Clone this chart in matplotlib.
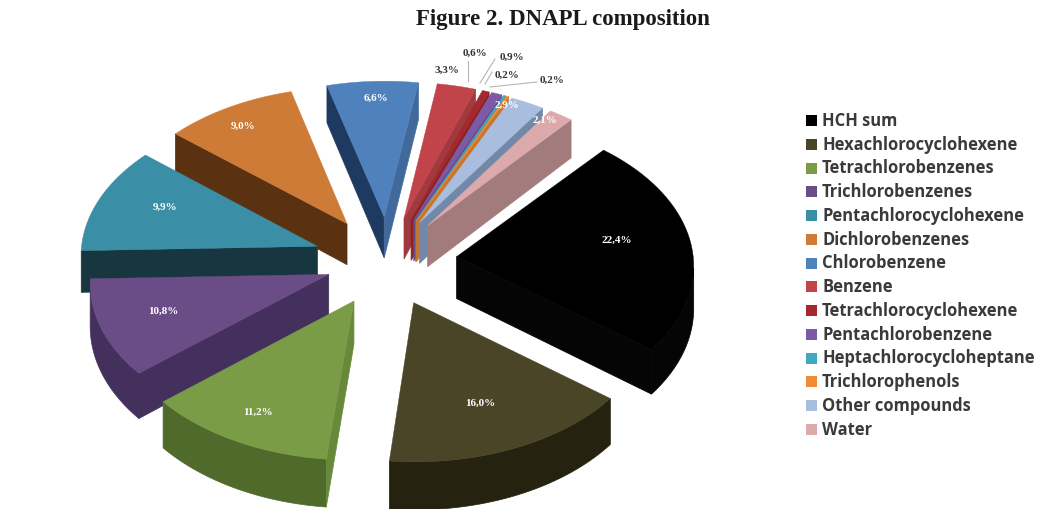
"""Figure 2. DNAPL composition - 3D exploded pie"""
import numpy as np
import matplotlib
matplotlib.use('Agg')
import matplotlib.pyplot as plt
from matplotlib.patches import Polygon, Rectangle

names = ['HCH sum', 'Hexachlorocyclohexene', 'Tetrachlorobenzenes', 'Trichlorobenzenes',
         'Pentachlorocyclohexene', 'Dichlorobenzenes', 'Chlorobenzene', 'Benzene',
         'Tetrachlorocyclohexene', 'Pentachlorobenzene', 'Heptachlorocycloheptane',
         'Trichlorophenols', 'Other compounds', 'Water']
values = [22.4, 16.0, 11.2, 10.8, 9.9, 9.0, 6.6, 3.3, 0.6, 0.9, 0.2, 0.2, 2.9, 2.1]
labels = ['22,4%', '16,0%', '11,2%', '10,8%', '9,9%', '9,0%', '6,6%', '3,3%', '0,6%', '0,9%',
          '0,2%', '0,2%', '2,9%', '2,1%']
colors = ['#000000', '#4b4528', '#7b9c47', '#6a4c86', '#3a8fa6', '#cd7b36', '#4f81bd', '#c0444a',
          '#a5282e', '#7d5aa6', '#3fa9c4', '#f08a35', '#a9bedf', '#ddaaab']
dark = ['#050505', '#25220f', '#4f6a2b', '#44305c', '#17363f', '#5a3212', '#1f3a60', '#7e2a2e',
        '#6e1c20', '#4f3a6e', '#2a7488', '#a85e20', '#7288a8', '#a27c7c']
light = ['#101010', '#3a3620', '#668a3a', '#4f3a68', '#2a6e80', '#a5622a', '#41699c', '#a03a3e',
         '#8a2226', '#67498a', '#3490a6', '#cc7428', '#8ea3c2', '#b99090']
# 数据标签的位置
label_xy = [(617, 240), (480, 403), (258, 412), (163, 311), (165, 207), (243, 126), (376, 98),
            (447, 70), (475, 53), (512, 57), (507, 75), (552, 80), (507, 105), (545, 120)]
# 每个扇区的分离距离和屏幕微调
explode = [72, 72, 72, 60, 72, 72, 72, 72, 72, 72, 72, 72, 72, 72]
nudge_x = [0, 0, 3, 0, 0, 0, 3, 2, 2, 2, 2, 2, 0, 0]
# 三维饼图的角度变形
warp_at = [42, 126, 186, 228, 268, 305, 339, 364, 402]
warp_by = [-1, 2, 0, 2, 0, 5, 6, 5, -2]

start = 42.0
cx, cy = 385, 262
R = 237.0
k = 0.62
f = 20 * R
depth = 42.0


def project(x, y):
    # 圆盘平面到屏幕的透视投影
    s = f / (f + y)
    return cx + x * s, cy - y * k * s


fig = plt.figure(figsize=(10.43, 5.1), dpi=100)
ax = fig.add_axes([0, 0, 1, 1])
ax.set_xlim(0, 1043)
ax.set_ylim(510, 0)
ax.axis('off')

edges = np.cumsum([0] + values) / sum(values) * 360 + start
edges = edges + np.interp(edges, warp_at, warp_by)
order = sorted(range(len(values)), key=lambda i: -np.cos(np.radians((edges[i] + edges[i + 1]) / 2)))

for z, i in enumerate(order):
    a0, a1 = np.radians(edges[i]), np.radians(edges[i + 1])
    mid = (a0 + a1) / 2
    ex = explode[i] * np.sin(mid)
    ey = explode[i] * np.cos(mid)
    th = np.linspace(a0, a1, 40)
    xs = np.append(ex, R * np.sin(th) + ex)
    ys = np.append(ey, R * np.cos(th) + ey)
    top = np.column_stack(project(xs, ys)) + [nudge_x[i], 0]
    d = depth * (f / (f + ys)) ** 2
    low = top + np.column_stack([np.zeros(len(d)), d])
    n = len(top)

    # 外缘：只画朝向观察者的部分
    vis = [j for j in range(1, n - 1) if top[j][0] > top[j + 1][0]]
    if vis:
        idx = vis + [vis[-1] + 1]
        rim = np.vstack([top[idx], low[idx][::-1]])
        ax.add_patch(Polygon(rim, closed=True, fc=dark[i], ec=dark[i], lw=0.5, zorder=2 + z))
    # 两个切面
    for j in [0, n - 1]:
        j2 = (j + 1) % n
        nx, ny = top[j2][1] - top[j][1], top[j][0] - top[j2][0]  # 顺时针多边形的外法线
        if ny <= 0:
            continue
        c = light[i] if nx > ny else dark[i]
        face = [top[j], top[j2], low[j2], low[j]]
        ax.add_patch(Polygon(face, closed=True, fc=c, ec=c, lw=0.5, zorder=2 + z))
    ax.add_patch(Polygon(top, closed=True, fc=colors[i], ec=colors[i], lw=0.3, zorder=2 + z))

# 小扇区的引线
leaders = [[(468, 62), (468, 82)], [(495, 60), (480, 84)], [(492, 73), (485, 85)], [(537, 83), (490, 88)]]
for pts in leaders:
    ax.plot(*zip(*pts), color='#b5b5b5', lw=0.8, zorder=30)

for i, (x, y) in enumerate(label_xy):
    white = i < 7 or i > 11
    ax.text(x, y, labels[i], color='white' if white else '#333333', fontsize=8, fontweight='bold',
            family='Liberation Serif', ha='center', va='center', zorder=40)

ax.text(563, 19, 'Figure 2. DNAPL composition', family='Liberation Serif', fontweight='bold',
        fontsize=16.5, ha='center', va='center', color='#1a1a1a')

# 图例
for i, name in enumerate(names):
    y = 121 + i * 23.75
    ax.add_patch(Rectangle((806, y - 5), 11, 11, fc=colors[i], ec='none', zorder=5))
    ax.text(822, y, name, family='Open Sans', fontweight='bold', fontsize=11.9, color='#3a3a3a',
            va='center', ha='left')

plt.savefig('out.png', dpi=100)
